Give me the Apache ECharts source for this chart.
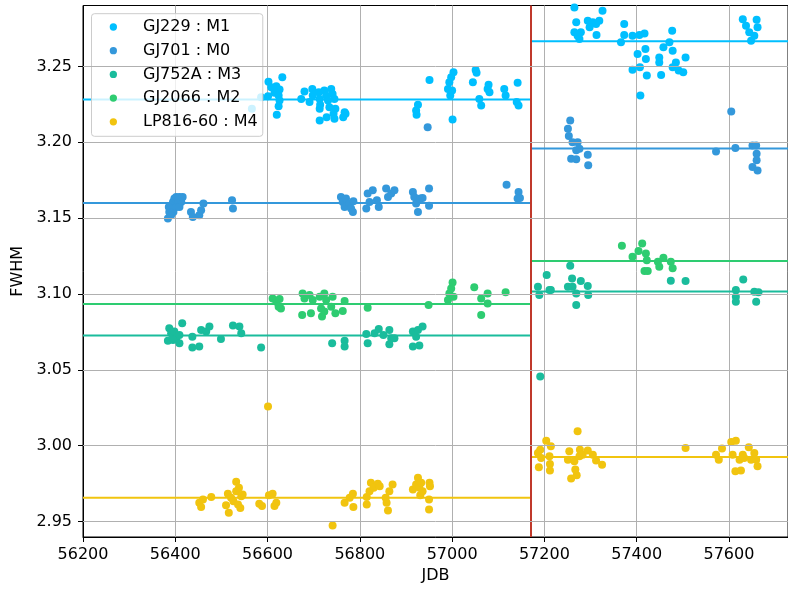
<!DOCTYPE html>
<html><head><meta charset="utf-8">
<script src="https://cdn.jsdelivr.net/npm/echarts@6/dist/echarts.min.js"></script>
<style>html,body{margin:0;padding:0;background:#fff}#c{width:788px;height:589px}</style>
</head><body><div id="c"></div>
<script>
const FONT = 'DejaVu Sans';
const xMin = 56200, xMax = 57728, xStep = 200;
const yMin = 2.9398, yMax = 3.2902;
const yTicks = [2.95, 3.00, 3.05, 3.10, 3.15, 3.20, 3.25];
const splitJD = 57171;

const names = ['GJ229 : M1', 'GJ701 : M0', 'GJ752A : M3', 'GJ2066 : M2', 'LP816-60 : M4'];
const colors = ['#00bfff', '#3498db', '#1abc9c', '#2ecc71', '#f1c40f'];
const meansBefore = [3.2283, 3.1600, 3.0726, 3.0934, 2.9656];
const meansAfter = [3.2666, 3.1960, 3.1017, 3.1217, 2.9926];

const gj229 = [[56566,3.2221],[56586,3.2297],[56602,3.2400],[56608,3.2363],[56619,3.2370],[56626,3.2348],[56615,3.2326],[56624,3.2308],[56626,3.2275],[56624,3.2238],[56620,3.2181],[56601,3.2304],[56632,3.2429],
[56673,3.2286],[56680,3.2335],[56691,3.2265],[56697,3.2352],[56698,3.2308],[56711,3.2330],[56713,3.2286],[56714,3.2247],[56713,3.2221],[56713,3.2144],[56723,3.2341],[56727,3.2308],[56731,3.2275],[56728,3.2166],[56734,3.2232],[56738,3.2352],[56741,3.2319],[56745,3.2286],[56743,3.2188],[56745,3.2155],[56747,3.2221],[56767,3.2199],[56764,3.2166],[56769,3.2188],
[56926,3.2247],[56922,3.2210],[56923,3.2181],[56951,3.2411],[56991,3.2352],[56994,3.2396],[56998,3.2429],[57003,3.2462],[56996,3.2308],[57000,3.2341],[57001,3.2151],[57045,3.2396],[57051,3.2477],[57053,3.2458],[57059,3.2286],[57063,3.2243],[57077,3.2352],[57079,3.2379],[57081,3.2330],[57113,3.2352],[57116,3.2308],[57140,3.2265],[57144,3.2243],[57142,3.2392],
[57265,3.2889],[57269,3.2791],[57265,3.2725],[57272,3.2703],[57276,3.2681],[57279,3.2725],[57294,3.2801],[57298,3.2758],[57305,3.2791],[57312,3.2780],[57319,3.2801],[57326,3.2867],[57313,3.2707],[57366,3.2659],[57373,3.2780],[57373,3.2707],[57391,3.2703],[57406,3.2707],[57417,3.2718],[57402,3.2582],[57391,3.2479],[57407,3.2495],[57419,3.2615],[57420,3.2549],[57422,3.2440],[57408,3.2308],[57449,3.2560],[57449,3.2527],[57453,3.2444],[57458,3.2626],[57471,3.2659],[57477,3.2736],[57478,3.2604],[57478,3.2495],[57485,3.2527],[57491,3.2473],[57501,3.2462],[57506,3.2560],[57630,3.2812],[57637,3.2769],[57644,3.2725],[57648,3.2670],[57660,3.2808],[57662,3.2758],[57655,3.2703]];

const gj701 = [[56384,3.1497],[56387,3.1541],[56391,3.1574],[56395,3.1607],[56398,3.1629],[56402,3.1640],[56406,3.1618],[56409,3.1640],[56413,3.1607],[56416,3.1640],[56386,3.1574],[56396,3.1541],[56402,3.1574],[56409,3.1574],[56391,3.1519],[56434,3.1541],[56438,3.1508],[56452,3.1519],[56456,3.1552],[56461,3.1596],[56523,3.1618],[56525,3.1563],
[56759,3.1640],[56763,3.1607],[56767,3.1574],[56770,3.1629],[56778,3.1596],[56781,3.1563],[56785,3.1541],[56786,3.1611],[56814,3.1563],[56817,3.1662],[56821,3.1607],[56828,3.1684],[56837,3.1618],[56841,3.1574],[56857,3.1695],[56861,3.1640],[56868,3.1662],[56875,3.1684],[56915,3.1673],[56918,3.1640],[56922,3.1596],[56926,3.1541],[56931,3.1629],[56936,3.1633],[56950,3.1695],[56950,3.1581],[56947,3.2100],[57118,3.1721],[57144,3.1673],[57142,3.1629],[57147,3.1633],
[57256,3.2144],[57251,3.2089],[57253,3.2041],[57261,3.2001],[57272,3.2001],[57276,3.1958],[57269,3.1947],[57258,3.1892],[57269,3.1888],[57294,3.1918],[57295,3.1848],[57572,3.1940],[57605,3.2203],[57614,3.1962],[57651,3.1979],[57659,3.1979],[57660,3.1925],[57660,3.1881],[57651,3.1837],[57662,3.1815]];

const gj752a = [[56387,3.0774],[56391,3.0741],[56384,3.0691],[56398,3.0752],[56402,3.0708],[56409,3.0730],[56415,3.0807],[56409,3.0675],[56395,3.0697],[56437,3.0719],[56437,3.0647],[56452,3.0654],[56456,3.0763],[56467,3.0752],[56474,3.0785],[56499,3.0704],[56525,3.0792],[56539,3.0785],[56543,3.0741],[56586,3.0647],[56740,3.0675],[56767,3.0691],[56767,3.0654],[56814,3.0737],[56817,3.0675],[56832,3.0741],[56841,3.0770],[56851,3.0730],[56864,3.0763],[56868,3.0708],[56875,3.0708],[56864,3.0669],[56915,3.0752],[56922,3.0719],[56915,3.0654],[56929,3.0660],[56936,3.0785],[56926,3.0763],
[57186,3.1048],[57189,3.0993],[57205,3.1125],[57211,3.1026],[57214,3.1026],[57191,3.0456],[57256,3.1186],[57260,3.1103],[57251,3.1048],[57261,3.1048],[57269,3.1004],[57269,3.0928],[57279,3.1085],[57294,3.1052],[57295,3.0993],[57474,3.1087],[57506,3.1085],[57615,3.1026],[57615,3.0982],[57615,3.0949],[57631,3.1096],[57655,3.1015],[57664,3.1011],[57659,3.0949]];

const gj2066 = [[56611,3.0971],[56619,3.0949],[56626,3.0967],[56629,3.0905],[56624,3.0916],[56676,3.1004],[56680,3.0971],[56675,3.0862],[56691,3.0993],[56694,3.0873],[56698,3.0960],[56713,3.0982],[56716,3.0905],[56718,3.0851],[56723,3.1004],[56727,3.0960],[56723,3.0884],[56741,3.0982],[56738,3.0916],[56747,3.0873],[56767,3.0954],[56763,3.0888],[56817,3.0910],[56949,3.0927],[56991,3.0960],[56994,3.1004],[56998,3.1037],[57001,3.1076],[57003,3.0982],[57048,3.1044],[57063,3.0971],[57063,3.0862],[57077,3.1004],[57077,3.0938],[57116,3.1011],
[57368,3.1318],[57391,3.1245],[57404,3.1283],[57412,3.1333],[57420,3.1267],[57422,3.1223],[57417,3.1151],[57424,3.1151],[57446,3.1212],[57449,3.1180],[57458,3.1239],[57474,3.1212],[57478,3.1169]];

const lp816 = [[56452,2.9623],[56456,2.9595],[56460,2.9645],[56478,2.9661],[56510,2.9608],[56516,2.9558],[56514,2.9683],[56521,2.9656],[56526,2.9634],[56532,2.9762],[56532,2.9700],[56536,2.9612],[56538,2.9722],[56543,2.9667],[56541,2.9590],[56546,2.9678],[56582,2.9617],[56588,2.9602],[56601,3.0259],[56603,2.9674],[56611,2.9683],[56615,2.9602],[56619,2.9623],[56741,2.9474],[56767,2.9623],[56778,2.9656],[56785,2.9683],[56786,2.9595],[56815,2.9612],[56815,2.9661],[56821,2.9700],[56824,2.9755],[56830,2.9722],[56839,2.9749],[56843,2.9733],[56856,2.9656],[56858,2.9623],[56861,2.9573],[56864,2.9700],[56871,2.9744],[56915,2.9711],[56922,2.9744],[56926,2.9788],[56929,2.9722],[56933,2.9755],[56936,2.9700],[56931,2.9674],[56950,2.9645],[56951,2.9755],[56952,2.9733],[56950,2.9580],
[57186,2.9952],[57188,2.9858],[57191,2.9974],[57193,2.9919],[57204,3.0033],[57211,2.9930],[57214,2.9996],[57212,2.9880],[57212,2.9836],[57251,2.9908],[57254,2.9963],[57258,2.9783],[57265,2.9897],[57270,2.9805],[57267,2.9843],[57272,3.0095],[57276,2.9930],[57277,2.9974],[57283,2.9941],[57294,2.9968],[57305,2.9941],[57312,2.9902],[57325,2.9875],[57506,2.9985],[57572,2.9941],[57578,2.9908],[57585,2.9981],[57605,3.0025],[57615,3.0033],[57608,2.9941],[57614,2.9832],[57623,2.9908],[57626,2.9836],[57630,2.9941],[57633,2.9919],[57643,2.9989],[57648,2.9908],[57655,2.9952],[57659,2.9908],[57662,2.9865]];

const starData = [gj229, gj701, gj752a, gj2066, lp816];

const chart = echarts.init(document.getElementById('c'), null, {renderer: 'canvas'});
const series = [];
// horizontal grid lines at the y tick values (drawn beneath everything)
series.push({
  type: 'line', name: 'ygrid', data: [], silent: true, z: 0,
  markLine: {
    silent: true, symbol: ['none', 'none'], label: {show: false},
    lineStyle: {color: '#b0b0b0', width: 1, type: 'solid'},
    animation: false,
    data: yTicks.map(v => ({yAxis: v}))
  }
});
names.forEach((n, i) => {
  series.push({
    type: 'line', name: n + ' before', data: [[xMin, meansBefore[i]], [splitJD, meansBefore[i]]],
    showSymbol: false, symbol: 'none', lineStyle: {color: colors[i], width: 2}, z: 2, silent: true
  });
  series.push({
    type: 'line', name: n + ' after', data: [[splitJD, meansAfter[i]], [xMax, meansAfter[i]]],
    showSymbol: false, symbol: 'none', lineStyle: {color: colors[i], width: 2}, z: 2, silent: true
  });
});
names.forEach((n, i) => {
  series.push({
    type: 'scatter', name: n, data: starData[i], symbolSize: 8,
    itemStyle: {color: colors[i], opacity: 1}, z: 3, silent: true
  });
});
series.push({
  type: 'line', name: 'split', data: [[splitJD, yMin], [splitJD, yMax]],
  showSymbol: false, symbol: 'none', lineStyle: {color: '#c0392b', width: 2}, z: 4, silent: true
});

const labelStyle = {fontFamily: FONT, fontSize: 16, color: '#000'};

chart.setOption({
  animation: false,
  backgroundColor: '#fff',
  textStyle: {fontFamily: FONT},
  grid: {left: 83, right: -1, top: 5.5, bottom: 49.5, show: true, borderColor: '#000', borderWidth: 1, backgroundColor: 'transparent'},
  legend: {
    data: names, left: 91.5, top: 13.7, orient: 'vertical', icon: 'circle',
    itemWidth: 7.3, itemHeight: 7.3, itemGap: 7.7, padding: [5.3, 5, 6.5, 18.2],
    backgroundColor: 'rgba(255,255,255,0.8)', borderColor: '#cccccc', borderWidth: 1, borderRadius: 3,
    selectedMode: false,
    textStyle: {fontFamily: FONT, fontSize: 16, color: '#000', lineHeight: 16, padding: [0, 0, 0, 21]}
  },
  xAxis: {
    type: 'value', min: xMin, max: xMax, interval: xStep,
    axisLine: {show: true, lineStyle: {color: '#000', width: 1}},
    axisTick: {show: true, length: 5, lineStyle: {color: '#000', width: 1}},
    splitLine: {show: true, lineStyle: {color: '#b0b0b0', width: 1}},
    axisLabel: Object.assign({margin: 10, showMaxLabel: false, formatter: v => String(v)}, labelStyle),
    name: 'JDB', nameLocation: 'middle', nameGap: 31, nameTextStyle: labelStyle
  },
  yAxis: {
    type: 'value', min: yMin, max: yMax,
    axisLine: {show: true, lineStyle: {color: '#000', width: 1}},
    axisTick: {show: true, length: 5, customValues: yTicks, lineStyle: {color: '#000', width: 1}},
    splitLine: {show: false},
    axisLabel: Object.assign({margin: 11, customValues: yTicks, formatter: v => v.toFixed(2)}, labelStyle),
    name: 'FWHM', nameLocation: 'middle', nameGap: 53, nameRotate: 90, nameTextStyle: labelStyle
  },
  series: series
});
</script></body></html>
